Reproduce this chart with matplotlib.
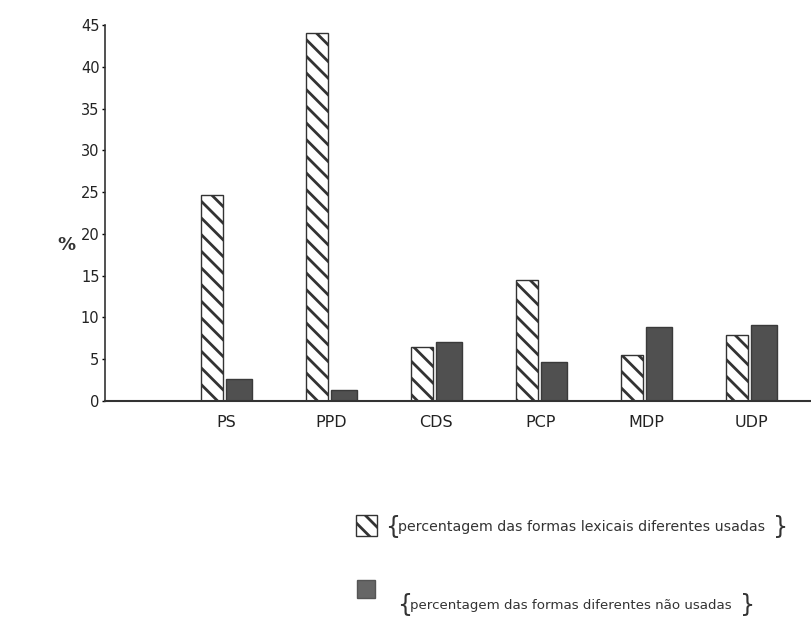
import matplotlib
matplotlib.use("Agg")
import matplotlib.pyplot as plt
import numpy as np
from matplotlib.patches import Rectangle

categories = ["PS", "PPD", "CDS", "PCP", "MDP", "UDP"]
usadas = [24.6, 44.1, 6.5, 14.5, 5.5, 7.9]
nao_usadas = [2.6, 1.3, 7.1, 4.7, 8.9, 9.1]
yticks = [0, 5, 10, 15, 20, 25, 30, 35, 40, 45]
legend_labels = ["percentagem das formas lexicais diferentes usadas",
                 "percentagem das formas diferentes não usadas"]

plt.rcParams['hatch.linewidth'] = 2.0
plt.rcParams['hatch.color'] = '#505050'

fig = plt.figure(figsize=(8.12, 6.25), dpi=100)
ax = fig.add_axes([105/812, 1-401/625, 1-105/812, 376/625])

x = np.arange(len(categories))
ax.bar(x - 0.13, usadas, width=0.21, color='white', edgecolor='#333333',
       linewidth=1.0, hatch='\\\\')
ax.bar(x + 0.125, nao_usadas, width=0.25, color='#505050', edgecolor='#3a3a3a',
       linewidth=1.0)

ax.set_xlim(-1.152, 5.58)
ax.set_ylim(0, 45)
ax.set_yticks(yticks)
ax.set_yticklabels([str(v) for v in yticks], fontsize=10.5, color='#222222')
ax.set_xticks(x)
ax.set_xticklabels(categories, fontsize=11.5, color='#222222')
ax.tick_params(axis='x', length=0, pad=10)
ax.tick_params(axis='y', length=2, width=1, direction='out', pad=2)
for s in ['top', 'right']:
    ax.spines[s].set_visible(False)
ax.spines['left'].set_linewidth(1.2)
ax.spines['bottom'].set_linewidth(1.5)
ax.spines['left'].set_color('#333333')
ax.spines['bottom'].set_color('#333333')

fig.text(66/812, 1-245/625, "%", fontsize=13, fontweight='bold',
         ha='center', va='center', color='#333333')

# legend
r1 = Rectangle((356/812, 1-536/625), 21/812, 21/625, transform=fig.transFigure,
               facecolor='white', edgecolor='#333333', hatch='\\\\', linewidth=1.0)
r2 = Rectangle((357/812, 1-598/625), 18/812, 18/625, transform=fig.transFigure,
               facecolor='#666666', edgecolor='#555555', linewidth=1.0)
fig.patches.extend([r1, r2])

fig.text(385/812, 1-527/625, "{", fontsize=17, ha='left', va='center', color='#333333')
fig.text(398/812, 1-527/625, legend_labels[0], fontsize=10.2, ha='left', va='center',
         color='#333333')
fig.text(773/812, 1-527/625, "}", fontsize=17, ha='left', va='center', color='#333333')

fig.text(397/812, 1-605/625, "{", fontsize=17, ha='left', va='center', color='#333333')
fig.text(410/812, 1-605/625, legend_labels[1], fontsize=9.6, ha='left', va='center',
         color='#333333')
fig.text(740/812, 1-605/625, "}", fontsize=17, ha='left', va='center', color='#333333')

fig.savefig("out.png", dpi=100)
